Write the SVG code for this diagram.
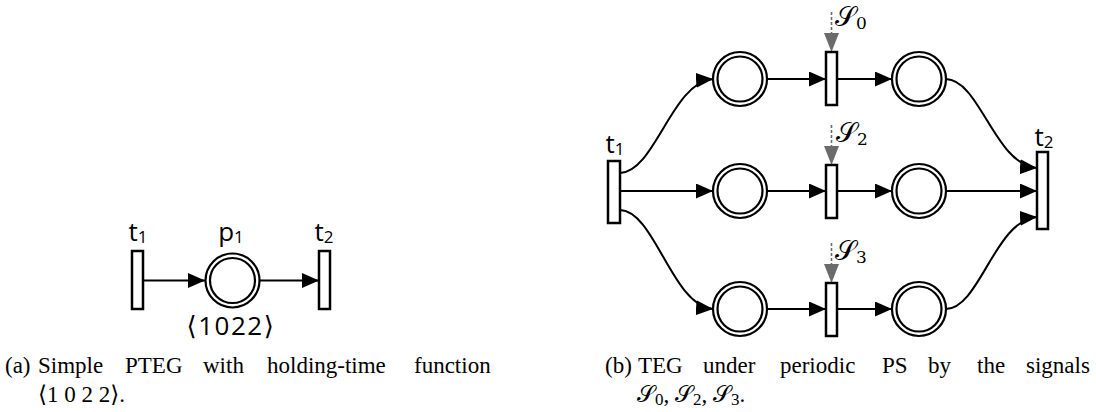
<svg xmlns="http://www.w3.org/2000/svg" width="1096" height="412" viewBox="0 0 1096 412">
<style>
.tr{fill:#fff;stroke:#000;stroke-width:2.5}
.pl{fill:#fff;stroke:#000;stroke-width:2.2}
.arc{fill:none;stroke:#000;stroke-width:2;marker-end:url(#arr)}
.sig{fill:none;stroke:#6b6b6b;stroke-width:1.6;stroke-dasharray:3 2}
.ghead{fill:#6b6b6b}
.lbl{font-family:"Open Sans","DejaVu Sans",sans-serif;font-size:26px;fill:#000}
.sub{font-size:17px}
.sl{font-family:"DejaVu Serif","DejaVu Sans","Noto Sans",serif;font-size:27px;fill:#000}
.cap{font-family:"Liberation Serif","DejaVu Serif",serif;font-size:23px;fill:#000}
</style>
<defs>
<marker id="arr" markerUnits="userSpaceOnUse" viewBox="0 0 18 16" markerWidth="18" markerHeight="16" refX="17" refY="7.5" orient="auto"><path d="M0,0 L17,7.5 L0,15 z" fill="#000"/></marker>
</defs>

<g id="connectors">
<path class="arc" d="M143,280.5 L205,280.5"/>
<path class="arc" d="M260,280.5 L319,280.5"/>
<path class="arc" d="M620,173 C655,172 672,82 713,79"/>
<path class="arc" d="M620,191 L713,191"/>
<path class="arc" d="M620,210 C655,211 672,306 713,309"/>
<path class="arc" d="M767,79 L826,79"/>
<path class="arc" d="M767,191 L826,191"/>
<path class="arc" d="M767,309 L826,309"/>
<path class="arc" d="M837,79 L892,79"/>
<path class="arc" d="M837,191 L892,191"/>
<path class="arc" d="M837,309 L892,309"/>
<path class="arc" d="M946,79 C980,80 995,165 1037,168"/>
<path class="arc" d="M946,191 L1037,191"/>
<path class="arc" d="M946,309 C980,308 995,220 1037,217"/>
<path class="sig" d="M831.5,12 L831.5,36"/>
<path class="sig" d="M831.5,125 L831.5,149"/>
<path class="sig" d="M831.5,243 L831.5,267"/>
<path class="ghead" d="M824,33 L839,33 L831.5,52 z"/>
<path class="ghead" d="M824,146 L839,146 L831.5,165 z"/>
<path class="ghead" d="M824,264 L839,264 L831.5,283 z"/>
</g>

<g id="a-t1">
<rect class="tr" x="132" y="251" width="11" height="58"/>
<text class="lbl" x="138" y="241" text-anchor="middle">t<tspan class="sub" dy="2">1</tspan></text>
</g>
<g id="a-p1">
<circle class="pl" cx="232.5" cy="280.5" r="27"/>
<circle class="pl" cx="232.5" cy="280.5" r="22.5"/>
<text class="lbl" x="231" y="241" text-anchor="middle">p<tspan class="sub" dy="2">1</tspan></text>
<text class="lbl" x="231" y="335" text-anchor="middle" font-size="22" letter-spacing="1.5">⟨1022⟩</text>
</g>
<g id="a-t2">
<rect class="tr" x="319" y="251" width="11" height="58"/>
<text class="lbl" x="324" y="241" text-anchor="middle">t<tspan class="sub" dy="2">2</tspan></text>
</g>

<g id="b-t1">
<rect class="tr" x="608" y="161" width="12" height="62"/>
<text class="lbl" x="615" y="153" text-anchor="middle">t<tspan class="sub" dy="2">1</tspan></text>
</g>
<g id="b-p1"><circle class="pl" cx="740" cy="79" r="27"/><circle class="pl" cx="740" cy="79" r="22.5"/></g>
<g id="b-p2"><circle class="pl" cx="740" cy="191" r="27"/><circle class="pl" cx="740" cy="191" r="22.5"/></g>
<g id="b-p3"><circle class="pl" cx="740" cy="309" r="27"/><circle class="pl" cx="740" cy="309" r="22.5"/></g>
<g id="b-s0">
<rect class="tr" x="826" y="52" width="11" height="53"/>
<text class="sl" x="835" y="26">𝒮<tspan class="sub" dy="3">0</tspan></text>
</g>
<g id="b-s2">
<rect class="tr" x="826" y="165" width="11" height="53"/>
<text class="sl" x="836" y="142">𝒮<tspan class="sub" dy="3">2</tspan></text>
</g>
<g id="b-s3">
<rect class="tr" x="826" y="283" width="11" height="53"/>
<text class="sl" x="835" y="260">𝒮<tspan class="sub" dy="3">3</tspan></text>
</g>
<g id="b-p4"><circle class="pl" cx="919" cy="79" r="27"/><circle class="pl" cx="919" cy="79" r="22.5"/></g>
<g id="b-p5"><circle class="pl" cx="919" cy="191" r="27"/><circle class="pl" cx="919" cy="191" r="22.5"/></g>
<g id="b-p6"><circle class="pl" cx="919" cy="309" r="27"/><circle class="pl" cx="919" cy="309" r="22.5"/></g>
<g id="b-t2">
<rect class="tr" x="1037" y="152" width="11" height="77"/>
<text class="lbl" x="1044" y="146" text-anchor="middle">t<tspan class="sub" dy="2">2</tspan></text>
</g>

<g id="caption-a" class="cap">
<text x="5" y="373">(a)</text>
<text x="38" y="373">Simple</text>
<text x="125" y="373">PTEG</text>
<text x="203" y="373">with</text>
<text x="267" y="373">holding-time</text>
<text x="414" y="373">function</text>
<text x="38" y="402">⟨1 0 2 2⟩.</text>
</g>
<g id="caption-b" class="cap">
<text x="605" y="373">(b)</text>
<text x="638" y="373">TEG</text>
<text x="703" y="373">under</text>
<text x="780" y="373">periodic</text>
<text x="882" y="373">PS</text>
<text x="928" y="373">by</text>
<text x="977" y="373">the</text>
<text x="1026" y="373">signals</text>
<text x="637" y="402">𝒮<tspan class="sub" dy="3">0</tspan><tspan dy="-3">, 𝒮</tspan><tspan class="sub" dy="3">2</tspan><tspan dy="-3">, 𝒮</tspan><tspan class="sub" dy="3">3</tspan><tspan dy="-3">.</tspan></text>
</g>
</svg>
